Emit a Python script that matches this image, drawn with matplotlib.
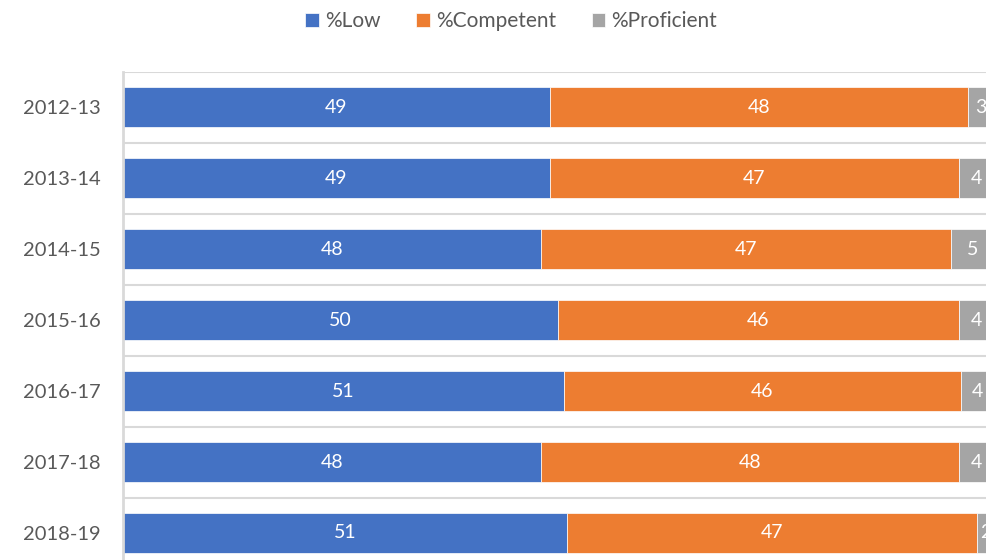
import numpy as np
import matplotlib.pyplot as plt

# Datos (porcentajes por año escolar)
anios = ['2012-13', '2013-14', '2014-15', '2015-16', '2016-17', '2017-18', '2018-19']
bajo = [49.0, 49.0, 48.0, 49.9, 50.6, 48.0, 51.0]
competente = [48.0, 47.0, 47.1, 46.1, 45.6, 48.0, 47.0]
proficiente = [3.0, 4.0, 4.9, 4.0, 3.8, 4.0, 2.0]
series = ['%Low', '%Competent', '%Proficient']
colores = ['#4472C4', '#ED7D31', '#A5A5A5']

plt.rcParams['font.family'] = ['Lato', 'DejaVu Sans']

fig = plt.figure(figsize=(9.87, 5.60), dpi=100)
ax = fig.add_axes([123 / 987, -8.5 / 560, 871 / 987, 497 / 560])

y = np.arange(len(anios))
izquierda = np.zeros(len(anios))
for nombre, valores, color in zip(series, [bajo, competente, proficiente], colores):
    barras = ax.barh(y, valores, left=izquierda, height=0.56, color=color,
                     edgecolor='white', linewidth=0.5, label=nombre)
    ax.bar_label(barras, labels=[f'{v:.0f}' for v in valores], label_type='center',
                 color='white', fontsize=14)
    izquierda += np.array(valores)

ax.set_xlim(0, 100)
ax.set_ylim(len(anios) - 0.5, -0.5)
ax.set_yticks(y)
ax.set_yticklabels(anios, fontsize=14.5, color='#595959')
ax.set_xticks([])
ax.tick_params(axis='y', length=0, pad=16)

# líneas de separación entre categorías
for k in np.arange(-0.5, len(anios), 1):
    ax.axhline(k, color='#D9D9D9', linewidth=1.5, zorder=0)

for lado in ['top', 'right', 'bottom']:
    ax.spines[lado].set_visible(False)
ax.spines['left'].set_color('#D9D9D9')
ax.spines['left'].set_linewidth(2)

fig.legend(loc='upper center', bbox_to_anchor=(0.518, 1.013), ncol=3, frameon=False,
           fontsize=15, handlelength=0.65, handleheight=0.65, handletextpad=0.3,
           columnspacing=1.7, labelcolor='#595959')

fig.savefig('out.png', dpi=100)
